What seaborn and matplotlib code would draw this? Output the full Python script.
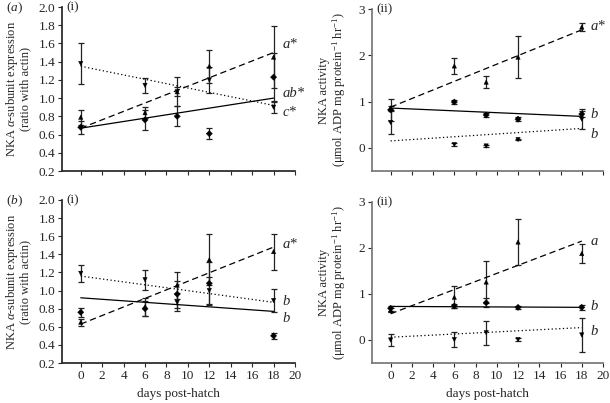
import matplotlib
matplotlib.use("Agg")
import matplotlib.pyplot as plt
import numpy as np
import pandas as pd
import seaborn as sns

# days sampled
days = [0, 6, 9, 12, 18]
trend_days = [0, 18]

# (a)(i) expression
ai_up = [0.79, 0.84, 1.07, 1.35, 1.45]
ai_up_err = [0.08, 0.06, 0.16, 0.18, 0.34]
ai_dia = [0.68, 0.76, 0.80, 0.61, 1.23]
ai_dia_err = [0.07, 0.11, 0.11, 0.06, 0.26]
ai_down = [1.38, 1.14, 1.07, 1.20, 0.90]
ai_down_err = [0.23, 0.08, 0.05, 0.14, 0.06]
ai_trend = {"up": [0.67, 1.50], "dia": [0.67, 1.00], "down": [1.35, 0.92]}
ai_letters = ["a*", "ab*", "c*"]
ai_letter_y = [1.59, 1.05, 0.84]

# (a)(ii) activity
aii_up = [0.86, 1.77, 1.42, 1.96, 2.61]
aii_up_err = [0.05, 0.17, 0.13, 0.46, 0.09]
aii_dia = [0.82, 0.99, 0.71, 0.62, 0.73]
aii_dia_err = [0.23, 0.04, 0.05, 0.05, 0.07]
aii_down = [0.55, 0.07, 0.04, 0.18, 0.62]
aii_down_err = [0.24, 0.03, 0.02, 0.02, 0.22]
aii_trend = {"up": [0.88, 2.55], "dia": [0.86, 0.68], "down": [0.15, 0.42]}
aii_letters = ["a*", "b", "b"]
aii_letter_y = [2.62, 0.71, 0.28]

# (b)(i) expression
bi_up = [0.65, 0.82, 1.06, 1.34, 1.43]
bi_up_err = [0.04, 0.10, 0.15, 0.28, 0.20]
bi_dia = [0.76, 0.80, 0.96, 1.08, 0.50]
bi_dia_err = [0.05, 0.08, 0.15, 0.24, 0.03]
bi_down = [1.19, 1.12, 0.87, 1.00, 0.89]
bi_down_err = [0.09, 0.11, 0.10, 0.15, 0.13]
bi_trend = {"up": [0.63, 1.48], "dia": [0.92, 0.77], "down": [1.16, 0.87]}
bi_letters = ["a*", "b", "b"]
bi_letter_y = [1.51, 0.88, 0.69]

# (b)(ii) activity
bii_up = [0.65, 0.93, 1.26, 2.13, 1.88]
bii_up_err = [0.04, 0.24, 0.46, 0.51, 0.20]
bii_dia = [0.69, 0.74, 0.81, 0.71, 0.71]
bii_dia_err = [0.05, 0.05, 0.10, 0.04, 0.05]
bii_down = [0.00, 0.01, 0.16, 0.01, 0.11]
bii_down_err = [0.12, 0.16, 0.26, 0.03, 0.37]
bii_trend = {"up": [0.57, 2.15], "dia": [0.73, 0.71], "down": [0.06, 0.27]}
bii_letters = ["a", "b", "b"]
bii_letter_y = [2.15, 0.72, 0.18]

sns.set_theme(style="ticks")
plt.rcParams["font.family"] = ["Liberation Serif", "DejaVu Serif"]
plt.rcParams["mathtext.fontset"] = "custom"
plt.rcParams["mathtext.rm"] = "Liberation Serif"
plt.rcParams["mathtext.it"] = "Liberation Serif:italic"
plt.rcParams["axes.unicode_minus"] = True

markers = {"up": "^", "dia": "D", "down": "v"}
dashes = {"up": (5, 3), "dia": "", "down": (1, 2)}


def build_points(up, up_err, dia, dia_err, down, down_err):
    frames = []
    for name, vals, errs in [("up", up, up_err), ("dia", dia, dia_err), ("down", down, down_err)]:
        frames.append(pd.DataFrame({"day": days, "value": vals, "err": errs, "series": name}))
    return pd.concat(frames, ignore_index=True)


def build_trend(trend):
    rows = []
    for name, vals in trend.items():
        rows.append(pd.DataFrame({"day": trend_days, "value": vals, "series": name}))
    return pd.concat(rows, ignore_index=True)


def draw_panel(ax, points, trend, letters, letter_y, activity, show_x):
    # error bars first so markers sit on top
    ax.errorbar(points["day"], points["value"], yerr=points["err"], fmt="none",
                ecolor="#222222", elinewidth=0.9, capsize=2.5, capthick=0.9, zorder=2)
    sns.lineplot(data=trend, x="day", y="value", style="series", dashes=dashes,
                 color="black", linewidth=0.9, legend=False, ax=ax, zorder=3)
    sns.scatterplot(data=points, x="day", y="value", style="series", markers=markers,
                    color="black", s=10, edgecolor="black", linewidth=0.3,
                    legend=False, ax=ax, zorder=4)

    for lab, yv in zip(letters, letter_y):
        ax.text(18.8, yv, lab, fontsize=10.5, style="italic", va="center", ha="left")

    ax.set_xlim(-1.75, 20)
    ax.set_xticks(np.arange(0, 21, 2))
    if activity:
        ax.set_ylim(-0.5, 3)
        ax.set_yticks([0, 1, 2, 3])
        ax.set_ylabel("NKA activity\n(μmol ADP mg protein$^{-1}$ hr$^{-1}$)", fontsize=9,
                      linespacing=1.0)
        ax.yaxis.set_label_coords(-0.105, 0.5)
        for sp in ["left", "bottom"]:
            ax.spines[sp].set_color("#777777")
    else:
        ax.set_ylim(0.2, 2.0)
        ax.set_yticks(np.arange(0.2, 2.01, 0.2))
        ax.set_yticklabels([f"{v:.1f}" for v in np.arange(0.2, 2.01, 0.2)])
        ax.set_ylabel("NKA $\\it{\\alpha}$-subunit expression\n(ratio with actin)", fontsize=9,
                      linespacing=1.0)
        ax.yaxis.set_label_coords(-0.13, 0.5)
    ax.tick_params(axis="both", direction="out", length=3, width=0.8, labelsize=9.5, pad=2)
    if show_x:
        ax.set_xlabel("days post-hatch", fontsize=9.5, labelpad=4)
    else:
        ax.set_xlabel("")
        ax.tick_params(axis="x", labelbottom=False)
    sns.despine(ax=ax)
    ax.patch.set_alpha(0)


fig = plt.figure(figsize=(6.1, 4.03), dpi=100)
ax1 = fig.add_axes([62 / 610, 1 - 171 / 403, 233 / 610, 164 / 403])
ax2 = fig.add_axes([372 / 610, 1 - 171 / 403, 231 / 610, 162 / 403])
ax3 = fig.add_axes([62 / 610, 1 - 363 / 403, 233 / 610, 163 / 403])
ax4 = fig.add_axes([372 / 610, 1 - 363 / 403, 231 / 610, 161 / 403])

draw_panel(ax1, build_points(ai_up, ai_up_err, ai_dia, ai_dia_err, ai_down, ai_down_err),
           build_trend(ai_trend), ai_letters, ai_letter_y, False, False)
draw_panel(ax2, build_points(aii_up, aii_up_err, aii_dia, aii_dia_err, aii_down, aii_down_err),
           build_trend(aii_trend), aii_letters, aii_letter_y, True, False)
draw_panel(ax3, build_points(bi_up, bi_up_err, bi_dia, bi_dia_err, bi_down, bi_down_err),
           build_trend(bi_trend), bi_letters, bi_letter_y, False, True)
draw_panel(ax4, build_points(bii_up, bii_up_err, bii_dia, bii_dia_err, bii_down, bii_down_err),
           build_trend(bii_trend), bii_letters, bii_letter_y, True, True)

# panel labels
fig.text(6 / 610, 1 - 8 / 403, "($\\it{a}$)", fontsize=9.5, va="center")
fig.text(6 / 610, 1 - 201 / 403, "($\\it{b}$)", fontsize=9.5, va="center")
for ax, lab in [(ax1, "(i)"), (ax2, "(ii)"), (ax3, "(i)"), (ax4, "(ii)")]:
    ax.text(0.02, 1.0, lab, transform=ax.transAxes, fontsize=9.5, va="center", ha="left")

plt.savefig("out.png", dpi=100)
